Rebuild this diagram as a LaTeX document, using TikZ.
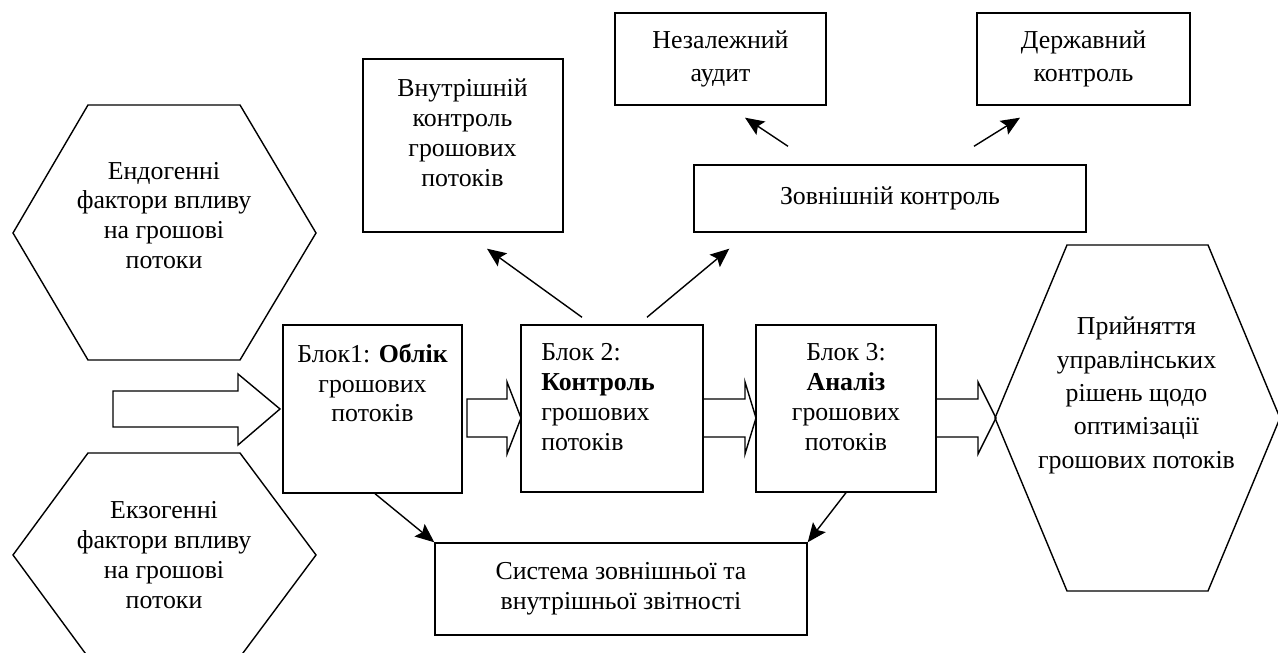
\documentclass[tikz,border=0pt]{standalone}
\usepackage{fontspec}
\setmainfont{Liberation Serif}
\usetikzlibrary{arrows.meta,calc}

\tikzset{
  box/.style={draw, line width=0.8pt, inner sep=0pt},
  txt/.style={align=center, inner sep=0pt, font=\fontsize{14.7}{17}\selectfont},
  hexa/.style={draw, line width=0.8pt},
  fat/.style={draw, line width=0.8pt},
  arr/.style={line width=0.8pt, -{Stealth[length=3.8mm,width=3.2mm,inset=0.7mm]}}
}

\begin{document}
\begin{tikzpicture}
	\useasboundingbox (0,0) rectangle (25.56,13.06);
	
	% hexagons
	\draw[hexa] (0.26,8.40) -- (1.76,10.96) -- (4.80,10.96) -- (6.32,8.40) -- (4.80,5.86) -- (1.76,5.86) -- cycle;
	\node[txt] (endo) at (3.28,8.75) {Ендогенні\\фактори впливу\\на грошові\\потоки};
	\draw[hexa] (0.26,1.96) -- (1.76,4.00) -- (4.80,4.00) -- (6.32,1.96) -- (4.80,-0.08) -- (1.76,-0.08) -- cycle;
	\node[txt] (exo) at (3.28,1.96) {Екзогенні\\фактори впливу\\на грошові\\потоки};
	\draw[hexa] (19.90,4.70) -- (21.34,8.16) -- (24.16,8.16) -- (25.60,4.70) -- (24.16,1.24) -- (21.34,1.24) -- cycle;
	\node[txt, font=\fontsize{14.7}{19}\selectfont] (rish) at (22.73,5.15) {Прийняття\\управлінських\\рішень щодо\\оптимізації\\грошових потоків};
	
	% blocks
	\node[box, minimum width=3.58cm, minimum height=3.36cm] (b1) at (7.45,4.88) {};
	\node[txt] (b1t) at (7.45,5.40) {Блок1: \textbf{Облік}\\грошових\\потоків};
	\node[box, minimum width=3.64cm, minimum height=3.34cm] (b2) at (12.24,4.89) {};
	\node[txt, align=left, anchor=west] (b2t) at (10.82,5.12) {Блок 2:\\\textbf{Контроль}\\грошових\\потоків};
	\node[box, minimum width=3.60cm, minimum height=3.34cm] (b3) at (16.92,4.89) {};
	\node[txt] (b3t) at (16.92,5.12) {Блок 3:\\\textbf{Аналіз}\\грошових\\потоків};
	
	\node[box, minimum width=4cm, minimum height=3.46cm] (vn) at (9.26,10.15) {};
	\node[txt] (vnt) at (9.25,10.40) {Внутрішній\\контроль\\грошових\\потоків};
	\node[box, txt, font=\fontsize{14.7}{19}\selectfont, minimum width=4.22cm, minimum height=1.84cm] (na) at (14.41,11.88) {Незалежний\\аудит};
	\node[box, txt, font=\fontsize{14.7}{19}\selectfont, minimum width=4.26cm, minimum height=1.84cm] (dk) at (21.67,11.88) {Державний\\контроль};
	\node[box, txt, minimum width=7.84cm, minimum height=1.34cm] (zv) at (17.80,9.09) {Зовнішній контроль};
	\node[box, txt, minimum width=7.44cm, minimum height=1.84cm] (sys) at (12.42,1.28) {Система зовнішньої та\\внутрішньої звітності};
	
	% block arrows
	\draw[fat] (2.26,5.24) -- (4.76,5.24) -- (4.76,5.58) -- (5.60,4.88) -- (4.76,4.16) -- (4.76,4.52) -- (2.26,4.52) -- cycle;
	\foreach \a/\b/\c in {9.34/10.14/10.42, 14.06/14.90/15.12, 18.72/19.56/19.92}
		\draw[fat] (\a,5.08) -- (\b,5.08) -- (\b,5.42) -- (\c,4.70) -- (\b,3.98) -- (\b,4.32) -- (\a,4.32) -- cycle;
	
	% thin arrows
	\draw[arr] ($(b2.north)+(-0.60,0.14)$) -- ($(vn.south)+(0.48,-0.32)$);
	\draw[arr] ($(b2.north)+(0.70,0.14)$) -- ($(zv.south west)+(0.72,-0.32)$);
	\draw[arr] ($(zv.north)+(-2.04,0.36)$) -- ($(na.south)+(0.49,-0.24)$);
	\draw[arr] ($(zv.north)+(1.68,0.36)$) -- ($(dk.south)+(-1.27,-0.24)$);
	\draw[arr] ($(b1.south)+(0.05,0)$) -- (sys.north west);
	\draw[arr] (b3.south) -- (sys.north east);
\end{tikzpicture}
\end{document}
